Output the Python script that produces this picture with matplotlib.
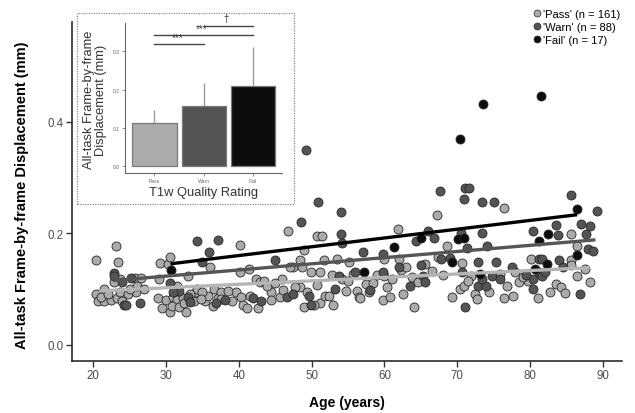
import matplotlib
matplotlib.use("Agg")
import matplotlib.pyplot as plt
from matplotlib.patches import Rectangle
from matplotlib.lines import Line2D
import numpy as np

plt.rcParams['font.family'] = ['Liberation Sans', 'DejaVu Sans']

# scatter data: age (years), all-task frame-by-frame displacement (mm)
pass_age = [20.4, 23.1, 23.4, 23.7, 25.7, 26.5, 20.9, 21.4, 20.4, 20.7, 21.4, 22.4, 23.2, 23.7, 24.7,
            25.9, 22.9, 28.9, 29.5, 30.0, 30.5, 31.0, 29.2, 30.2, 30.5, 31.5, 31.5, 32.3, 32.8, 33.8,
            34.1, 34.3, 33.0, 36.0, 35.3, 35.8, 35.0, 40.1, 36.6, 37.1, 37.6, 39.6, 40.3, 40.6, 41.1,
            42.4, 42.9, 43.4, 42.6, 41.4, 40.1, 44.4, 44.4, 45.6, 46.7, 45.9, 47.4, 48.4, 48.4, 47.7,
            50.7, 51.4, 48.9, 48.7, 49.9, 48.9, 50.7, 51.2, 51.7, 51.2, 51.9, 52.4, 53.5, 54.2, 54.7,
            55.2, 55.7, 56.2, 56.5, 57.5, 56.7, 60.0, 60.0, 60.3, 59.8, 60.8, 61.8, 62.0, 62.3, 62.5,
            63.8, 64.0, 65.6, 67.2, 68.6, 67.3, 70.6, 69.3, 70.4, 70.9, 72.4, 74.4, 71.9, 75.9, 76.5,
            76.4, 77.7, 77.9, 80.2, 81.1, 79.7, 83.6, 84.2, 85.6, 85.7, 86.5, 86.5, 88.3, 85.7,
            21.0, 22.0, 24.0, 25.0, 26.0, 27.0, 29.0, 30.8, 31.8, 32.5, 33.3, 34.8, 36.5, 37.5, 38.5,
            39.0, 41.5, 43.9, 44.9, 46.0, 47.0, 49.3, 50.3, 52.8, 53.0, 55.0, 57.9, 58.5, 59.0, 61.0,
            63.0, 64.6, 66.5, 68.0, 71.5, 72.7, 76.9, 78.5, 79.0, 82.7, 84.8, 87.5]
pass_fd = [0.152, 0.177, 0.148, 0.118, 0.119, 0.119, 0.091, 0.100, 0.090, 0.078, 0.078, 0.080, 0.083, 0.094, 0.091,
           0.094, 0.112, 0.084, 0.065, 0.080, 0.059, 0.085, 0.146, 0.145, 0.158, 0.106, 0.080, 0.083, 0.059, 0.078,
           0.094, 0.100, 0.124, 0.139, 0.078, 0.088, 0.094, 0.179, 0.099, 0.083, 0.094, 0.094, 0.085, 0.071, 0.065,
           0.118, 0.112, 0.115, 0.065, 0.135, 0.130, 0.094, 0.080, 0.085, 0.204, 0.118, 0.139, 0.151, 0.103, 0.103,
           0.195, 0.195, 0.170, 0.139, 0.130, 0.068, 0.107, 0.130, 0.151, 0.074, 0.088, 0.088, 0.154, 0.118, 0.097,
           0.148, 0.127, 0.097, 0.085, 0.109, 0.083, 0.154, 0.124, 0.103, 0.080, 0.085, 0.207, 0.154, 0.133, 0.091,
           0.121, 0.068, 0.145, 0.233, 0.177, 0.157, 0.147, 0.085, 0.100, 0.106, 0.091, 0.094, 0.124, 0.127, 0.245,
           0.083, 0.088, 0.130, 0.154, 0.083, 0.115, 0.109, 0.103, 0.198, 0.151, 0.177, 0.123, 0.112, 0.142,
           0.085, 0.090, 0.078, 0.100, 0.105, 0.100, 0.118, 0.070, 0.068, 0.075, 0.090, 0.082, 0.070, 0.082, 0.097,
           0.078, 0.088, 0.105, 0.110, 0.098, 0.140, 0.095, 0.072, 0.125, 0.071, 0.115, 0.094, 0.110, 0.125, 0.118,
           0.140, 0.112, 0.132, 0.125, 0.114, 0.082, 0.105, 0.113, 0.122, 0.095, 0.092, 0.135]

warn_age = [22.8, 22.9, 25.2, 24.2, 24.5, 26.4, 23.9, 30.5, 31.8, 31.0, 33.0, 33.3, 34.3, 35.0, 35.9,
            37.1, 38.1, 41.9, 44.9, 46.6, 48.5, 49.2, 50.9, 49.7, 49.9, 53.2, 54.0, 54.1, 54.2, 53.7,
            55.9, 57.0, 59.8, 59.8, 63.5, 64.4, 65.0, 65.3, 65.6, 66.0, 66.8, 67.6, 67.8, 70.6, 71.1,
            70.9, 71.1, 71.6, 70.5, 71.4, 72.9, 73.4, 73.4, 75.0, 74.1, 74.8, 75.3, 72.9, 74.0, 73.4,
            75.9, 80.4, 80.4, 80.4, 81.2, 81.7, 83.8, 81.2, 81.7, 82.1, 84.0, 83.6, 85.7, 87.0, 88.3,
            87.7, 88.0, 88.6, 89.2, 86.9, 36.8, 43.0, 47.5, 58.0, 62.0, 69.0, 77.5, 79.5, 84.5]
warn_fd = [0.128, 0.124, 0.119, 0.072, 0.072, 0.075, 0.112, 0.111, 0.097, 0.094, 0.085, 0.077, 0.185, 0.148, 0.167,
           0.188, 0.080, 0.083, 0.151, 0.085, 0.220, 0.349, 0.256, 0.088, 0.072, 0.100, 0.237, 0.198, 0.183, 0.124,
           0.130, 0.166, 0.163, 0.130, 0.106, 0.185, 0.143, 0.124, 0.112, 0.204, 0.191, 0.275, 0.154, 0.130, 0.068,
           0.262, 0.281, 0.281, 0.200, 0.173, 0.148, 0.200, 0.256, 0.256, 0.177, 0.124, 0.149, 0.106, 0.106, 0.118,
           0.118, 0.204, 0.118, 0.100, 0.154, 0.154, 0.197, 0.130, 0.124, 0.130, 0.151, 0.215, 0.269, 0.217, 0.213,
           0.198, 0.172, 0.168, 0.240, 0.090, 0.075, 0.078, 0.090, 0.098, 0.140, 0.155, 0.140, 0.125, 0.140]

fail_age = [30.7, 57.2, 61.3, 65.0, 69.3, 70.4, 70.1, 70.9, 73.6, 73.2, 80.7, 81.5, 81.2, 82.5, 82.4, 86.5, 86.5]
fail_fd = [0.133, 0.131, 0.176, 0.191, 0.148, 0.369, 0.189, 0.191, 0.431, 0.127, 0.136, 0.446, 0.186, 0.199,
           0.145, 0.160, 0.244]

# fitted lines
pass_fit_age = [20.8, 88.2]
pass_fit_fd = [0.0964, 0.138]
warn_fit_age = [22.8, 89.0]
warn_fit_fd = [0.115, 0.188]
fail_fit_age = [30.6, 86.5]
fail_fit_fd = [0.145, 0.233]

# inset bar chart
ratings = ['Pass', 'Warn', 'Fail']
rating_mean = [0.112, 0.158, 0.209]
rating_sd = [0.036, 0.0595, 0.102]
legend_labels = ["'Pass' (n = 161)", "'Warn' (n = 88)", "'Fail' (n = 17)"]

c_pass, c_warn, c_fail = '#ababab', '#545454', '#0d0d0d'
W, H = 635, 414

fig = plt.figure(figsize=(6.35, 4.14), dpi=100)
ax = fig.add_axes([72.3 / W, 1 - 361.7 / H, (621.7 - 72.3) / W, (361.7 - 22.7) / H])

for a, f, c in [(pass_age, pass_fd, c_pass), (warn_age, warn_fd, c_warn), (fail_age, fail_fd, c_fail)]:
    ax.scatter(a, f, s=42, c=c, edgecolors='#262626', linewidths=0.6, zorder=2)

ax.plot(pass_fit_age, pass_fit_fd, color='#b5b5b5', lw=2.4, zorder=3, solid_capstyle='butt')
ax.plot(warn_fit_age, warn_fit_fd, color='#555555', lw=2.4, zorder=3, solid_capstyle='butt')
ax.plot(fail_fit_age, fail_fit_fd, color='#000000', lw=2.4, zorder=3, solid_capstyle='butt')

ax.set_xlim(17.11, 92.61)
ax.set_ylim(-0.0287, 0.579)
ax.set_xticks([20, 30, 40, 50, 60, 70, 80, 90])
ax.set_yticks([0.0, 0.2, 0.4])
ax.set_yticklabels(['0.0', '0.2', '0.4'])
for s in ['top', 'right']:
    ax.spines[s].set_visible(False)
for s in ['left', 'bottom']:
    ax.spines[s].set_linewidth(1.1)
    ax.spines[s].set_color('#1a1a1a')
ax.tick_params(length=4, width=1, color='#333333', labelsize=8.3, labelcolor='#4d4d4d', pad=2)

fig.text(22 / W, 1 - 195 / H, 'All-task Frame-by-frame Displacement (mm)', rotation=90,
         ha='center', va='center', fontsize=10.5, fontweight='bold')
fig.text(347 / W, 1 - 403 / H, 'Age (years)', ha='center', va='center', fontsize=10, fontweight='bold')

handles = [Line2D([], [], marker='o', ls='', markersize=5, markerfacecolor=c,
                  markeredgecolor='#262626', markeredgewidth=0.5) for c in (c_pass, c_warn, c_fail)]
fig.legend(handles, legend_labels, loc='upper left', bbox_to_anchor=(534 / W, 1 - 10 / H),
           frameon=False, fontsize=8, handlelength=0.6, handletextpad=0.25, labelspacing=0.25,
           borderpad=0, borderaxespad=0)

# dotted frame around the inset
box = Rectangle((76.7 / W, 1 - 205 / H), (294 - 76.7) / W, (205 - 14) / H, transform=fig.transFigure,
                facecolor='white', edgecolor='#8c8c8c', linestyle=(0, (1, 1)), lw=0.9, zorder=1)
fig.patches.append(box)

ins = fig.add_axes([125 / W, 1 - 174 / H, (282.3 - 125) / W, (174 - 24) / H])
ins.set_zorder(2)
ins.patch.set_alpha(0)
xpos = np.arange(1, 4)
ins.errorbar(xpos, rating_mean, yerr=[[0, 0, 0], rating_sd], fmt='none', ecolor='#9a9a9a',
             elinewidth=1.0, capsize=0, zorder=1)
ins.bar(xpos, rating_mean, width=0.9, color=[c_pass, c_warn, c_fail], edgecolor='#7a7a7a',
        linewidth=0.9, zorder=2)
ins.set_xlim(0.4, 3.6)
ins.set_ylim(-0.0175, 0.374)
ins.set_xticks(xpos)
ins.set_xticklabels(ratings)
ins.set_yticks([0.0, 0.1, 0.2, 0.3])
ins.set_yticklabels(['0.0', '0.1', '0.2', '0.3'])
for s in ['top', 'right']:
    ins.spines[s].set_visible(False)
for s in ['left', 'bottom']:
    ins.spines[s].set_linewidth(0.8)
    ins.spines[s].set_color('#666666')
ins.tick_params(length=2, width=0.6, color='#777777', labelsize=3.6, labelcolor='#666666', pad=1.5)

# significance brackets
for x0, x1, y, lab, lx in [(1, 2, 0.319, '***', 1.48), (1, 3, 0.343, '***', 1.95), (2, 3, 0.367, '\u2020', 2.45)]:
    ins.plot([x0, x1], [y, y], color='#444444', lw=1.0, clip_on=False)
    ins.text(lx, y + 0.006, lab, ha='center', va='bottom', fontsize=7, color='#333333', clip_on=False)

fig.text(95 / W, 1 - 100 / H, 'All-task Frame-by-frame\nDisplacement (mm)', rotation=90, ha='center',
         va='center', fontsize=9.3, color='#333333', linespacing=1.0)
fig.text(203.6 / W, 1 - 193 / H, 'T1w Quality Rating', ha='center', va='center', fontsize=9.3, color='#333333')

fig.savefig('out.png', dpi=100)
